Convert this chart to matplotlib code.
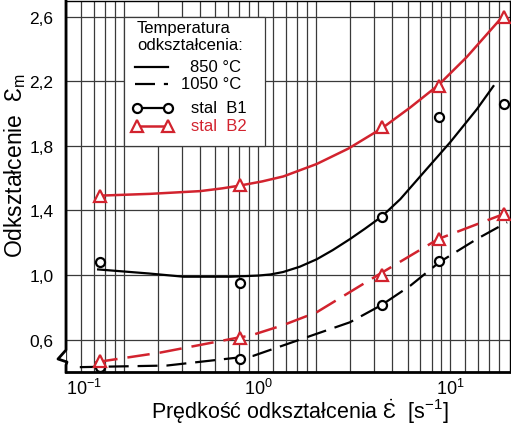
import matplotlib
matplotlib.use('Agg')
import matplotlib.pyplot as plt
import matplotlib.ticker as mticker
from matplotlib.patches import Rectangle

plt.rcParams['font.family'] = ['Liberation Sans', 'DejaVu Sans']
plt.rcParams['mathtext.fontset'] = 'custom'
plt.rcParams['mathtext.rm'] = 'Liberation Sans'
plt.rcParams['mathtext.it'] = 'Liberation Sans'
plt.rcParams['mathtext.bf'] = 'Liberation Sans:bold'

# measured points (strain rate, peak strain)
rate_pts = [0.15, 0.81, 4.4, 8.7, 19]
b1_850 = [1.08, 0.95, 1.36, 1.98, 2.06]
b2_850 = [1.49, 1.56, 1.915, 2.17, 2.60]
rate_b1_1050 = [0.15, 0.81, 4.4, 8.8]
b1_1050 = [0.43, 0.48, 0.815, 1.09]
b2_1050 = [0.466, 0.61, 1.0, 1.225, 1.38]

# fitted curves
fit_b1_850_x = [0.147, 0.27, 0.41, 0.72, 1.0, 1.16, 1.35, 1.65, 2.02, 2.45, 3.0, 3.6, 4.4, 5.5, 7.3, 10.0, 13.8, 16.8]
fit_b1_850_y = [1.035, 1.01, 0.99, 0.99, 0.997, 1.004, 1.019, 1.052, 1.098, 1.155, 1.222, 1.287, 1.362, 1.47, 1.637, 1.822, 2.028, 2.17]
fit_b2_850_x = [0.15, 0.274, 0.5, 0.65, 0.81, 1.05, 1.355, 2.02, 2.96, 4.44, 6.2, 8.7, 12.2, 18.6]
fit_b2_850_y = [1.492, 1.503, 1.52, 1.537, 1.555, 1.58, 1.611, 1.688, 1.784, 1.911, 2.038, 2.177, 2.35, 2.596]
fit_b1_1050_x = [0.118, 0.335, 0.944, 1.79, 3.01, 4.4, 6.2, 8.8, 13.8, 19.8]
fit_b1_1050_y = [0.43, 0.44, 0.50, 0.615, 0.708, 0.815, 0.934, 1.08, 1.224, 1.327]
fit_b2_1050_x = [0.142, 0.309, 0.805, 0.91, 1.35, 2.02, 4.2, 8.7, 19]
fit_b2_1050_y = [0.46, 0.52, 0.615, 0.625, 0.69, 0.77, 1.0, 1.224, 1.378]

yticks = [0.6, 1.0, 1.4, 1.8, 2.2, 2.6]
ytick_labels = ['0,6', '1,0', '1,4', '1,8', '2,2', '2,6']
xticks = [0.1, 1, 10]
xtick_labels = [r'$\mathregular{10^{-1}}$', r'$\mathregular{10^{0}}$', r'$\mathregular{10^{1}}$']
xminor = [0.12, 0.14, 0.16, 0.18, 0.2, 0.3, 0.4, 0.5, 0.6, 0.7, 0.8, 0.9,
          1.2, 1.4, 1.6, 1.8, 2, 3, 4, 5, 6, 7, 8, 9, 12, 14, 16, 18]

RED = '#d2232e'
W, H = 511, 427
L, R, T, B = 66, 510, 1.7, 373

fig = plt.figure(figsize=(W / 100, H / 100), dpi=100)
ax = fig.add_axes([L / W, 1 - B / H, (R - L) / W, (B - T) / H])


def ap(px, py):
    # pixel position -> axes fraction
    return (px - L) / (R - L), (B - py) / (B - T)


ax.set_xscale('log')
ax.set_xlim(0.1, 20.5)
ax.set_ylim(0.4, 2.699)
ax.set_xticks(xticks, labels=xtick_labels)
ax.set_xticks(xminor, minor=True)
ax.xaxis.set_minor_formatter(mticker.NullFormatter())
ax.set_yticks(yticks, labels=ytick_labels)
ax.tick_params(which='both', length=0)
ax.tick_params(axis='x', labelsize=13, pad=4)
ax.tick_params(axis='y', labelsize=12.5, pad=9)
ax.set_axisbelow(True)
ax.grid(axis='x', which='both', color='#3a3a3a', lw=0.9)
ax.grid(axis='y', which='major', color='#3a3a3a', lw=0.9)
ax.get_xticklabels()[0].set_ha('left')

for s in ['top', 'right']:
    ax.spines[s].set_linewidth(1.0)
ax.spines['bottom'].set_linewidth(2.0)
ax.spines['left'].set_visible(False)
# left spine with axis-break zigzag
zz = [ap(L, T), ap(L, 351), ap(58, 360), ap(67, 363), ap(L, 366), ap(L, B)]
ax.plot([p[0] for p in zz], [p[1] for p in zz], color='black', lw=2.0,
        transform=ax.transAxes, clip_on=False, zorder=6)

# curves
ax.plot(fit_b1_850_x, fit_b1_850_y, color='black', lw=1.6, zorder=4)
ax.plot(fit_b2_850_x, fit_b2_850_y, color=RED, lw=1.8, zorder=4)
ax.plot(fit_b1_1050_x, fit_b1_1050_y, color='black', lw=1.6, dashes=(9, 4), zorder=4)
ax.plot(fit_b2_1050_x, fit_b2_1050_y, color=RED, lw=1.8, dashes=(9, 4), zorder=4)

# points
ax.plot(rate_pts, b1_850, 'o', ms=6.5, mfc='white', mec='black', mew=1.6, zorder=5, clip_on=False)
ax.plot(rate_b1_1050, b1_1050, 'o', ms=6.5, mfc='white', mec='black', mew=1.6, zorder=5, clip_on=False)
ax.plot(rate_pts, b2_850, '^', ms=8, mfc='white', mec=RED, mew=1.6, zorder=5, clip_on=False)
ax.plot(rate_pts, b2_1050, '^', ms=8, mfc='white', mec=RED, mew=1.6, zorder=5, clip_on=False)

# legend box
x0, y0 = ap(124, 147)
x1, y1 = ap(265, 18)
ax.add_patch(Rectangle((x0, y0), x1 - x0, y1 - y0, transform=ax.transAxes,
                       facecolor='white', edgecolor='#3a3a3a', lw=0.9, zorder=3))
kw = dict(transform=ax.transAxes, fontsize=12, zorder=7, va='center')
ax.text(*ap(137, 29), 'Temperatura', ha='left', **kw)
ax.text(*ap(137, 46), 'odkształcenia:', ha='left', **kw)
ax.text(*ap(241, 68), '850 °C', ha='right', **kw)
ax.text(*ap(241, 85), '1050 °C', ha='right', **kw)
ax.text(*ap(191, 109), 'stal  B1', ha='left', **kw)
ax.text(*ap(191, 127), 'stal  B2', ha='left', color=RED, **kw)

lkw = dict(transform=ax.transAxes, clip_on=False, zorder=7)
xa, _ = ap(135, 0)
xb, _ = ap(168, 0)
ax.plot([xa, xb], [ap(0, 68)[1]] * 2, color='black', lw=1.6, **lkw)
ax.plot([xa, xb], [ap(0, 85)[1]] * 2, color='black', lw=1.6, dashes=(9, 4), **lkw)
xa, _ = ap(137, 0)
ax.plot([xa, xb], [ap(0, 109)[1]] * 2, color='black', lw=1.6, marker='o', ms=6.5,
        mfc='white', mec='black', mew=1.6, **lkw)
ax.plot([xa, xb], [ap(0, 127)[1]] * 2, color=RED, lw=1.8, marker='^', ms=8,
        mfc='white', mec=RED, mew=1.6, **lkw)

# axis titles
fig.text(15 / W, 1 - 166 / H, r'Odkształcenie  Ɛ$_\mathregular{m}$', rotation=90,
         ha='center', va='center', fontsize=16.5)
fig.text(300 / W, 1 - 412 / H, r'Prędkość odkształcenia $\dot{\mathregular{Ɛ}}$  [s$^\mathregular{-1}$]',
         ha='center', va='center', fontsize=15.5)

fig.savefig('out.png', dpi=100)
